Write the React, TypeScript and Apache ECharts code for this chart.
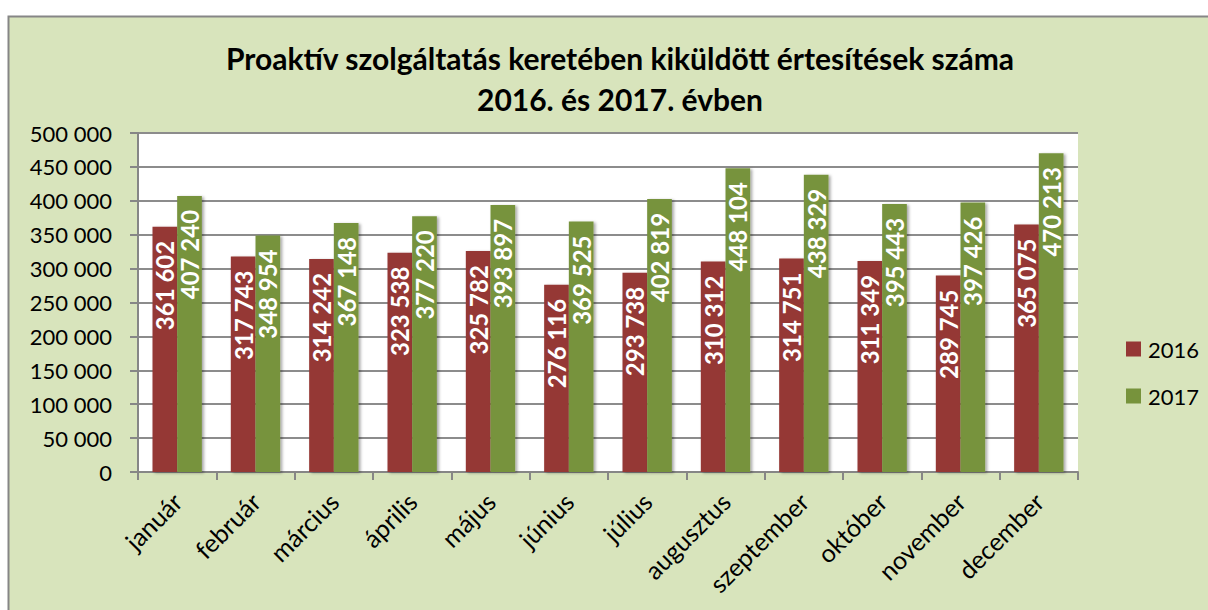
import React, { useEffect, useRef } from "react";
import * as echarts from "echarts";

const months = ["január", "február", "március", "április", "május", "június", "július", "augusztus", "szeptember", "október", "november", "december"];
const values2016 = [361602, 317743, 314242, 323538, 325782, 276116, 293738, 310312, 314751, 311349, 289745, 365075];
const values2017 = [407240, 348954, 367148, 377220, 393897, 369525, 402819, 448104, 438329, 395443, 397426, 470213];
const titleText = "Proaktív szolgáltatás keretében kiküldött értesítések száma\n2016. és 2017. évben";

const FONT = "Lato";
const fmt = (v: number) => {
  const s = String(Math.round(v));
  return s.replace(/\B(?=(\d{3})+(?!\d))/g, " ");
};

export default function App() {
  const ref = useRef<HTMLDivElement>(null);
  useEffect(() => {
    if (!ref.current) return;
    const chart = echarts.init(ref.current, null, { renderer: "svg" });
    const barLabel = {
      show: true,
      position: "insideTop",
      rotate: 90,
      align: "right",
      verticalAlign: "middle",
      distance: 14,
      color: "#ffffff",
      fontFamily: FONT,
      fontWeight: "bold",
      fontSize: 24,
      formatter: (p: any) => fmt(p.value),
    };
    const shadow = { shadowColor: "rgba(0,0,0,0.35)", shadowBlur: 3, shadowOffsetX: 2, shadowOffsetY: 1 };
    chart.setOption({
      animation: false,
      backgroundColor: "transparent",
      graphic: [
        {
          type: "rect",
          shape: { x: 8.5, y: 16.5, width: 1260, height: 660 },
          style: { fill: "#d8e4bc", stroke: "#868686", lineWidth: 2 },
          z: -10,
          silent: true,
        },
      ],
      title: {
        text: titleText,
        left: 615,
        textAlign: "center",
        top: 32,
        textStyle: { fontFamily: FONT, fontWeight: "bold", fontSize: 30, lineHeight: 41, color: "#000" },
      },
      legend: {
        orient: "vertical",
        left: 1121,
        top: 333,
        itemWidth: 15,
        itemHeight: 15,
        itemGap: 25,
        icon: "rect",
        textStyle: { fontFamily: FONT, fontSize: 22, color: "#000", padding: [0, 0, 0, 2] },
        data: ["2016", "2017"],
      },
      grid: {
        left: 138,
        right: 130,
        top: 133,
        bottom: 138,
        show: true,
        backgroundColor: "#ffffff",
        borderWidth: 0,
      },
      xAxis: {
        type: "category",
        data: months,
        axisLine: { lineStyle: { color: "#868686", width: 2 } },
        axisTick: { show: true, length: 8, lineStyle: { color: "#868686", width: 2 } },
        axisLabel: { rotate: 45, margin: 25, fontFamily: FONT, fontSize: 25, color: "#000" },
      },
      yAxis: {
        type: "value",
        min: 0,
        max: 500000,
        interval: 50000,
        axisLine: { show: true, lineStyle: { color: "#868686", width: 2 } },
        axisTick: { show: true, length: 8, lineStyle: { color: "#868686", width: 2 } },
        splitLine: { lineStyle: { color: "#8c8c8c", width: 2 } },
        axisLabel: { margin: 26, fontFamily: FONT, fontSize: 22, color: "#000", formatter: (v: number) => fmt(v) },
      },
      series: [
        {
          name: "2016",
          type: "bar",
          data: values2016,
          barGap: "0%",
          barCategoryGap: "37%",
          itemStyle: { color: "#953735", ...shadow },
          label: barLabel,
        },
        {
          name: "2017",
          type: "bar",
          data: values2017,
          barGap: "0%",
          barCategoryGap: "37%",
          itemStyle: { color: "#77933c", ...shadow },
          label: barLabel,
        },
      ],
    });
    return () => chart.dispose();
  }, []);
  return <div ref={ref} style={{ position: "absolute", left: 0, top: 0, width: 1208, height: 610 }} />;
}
